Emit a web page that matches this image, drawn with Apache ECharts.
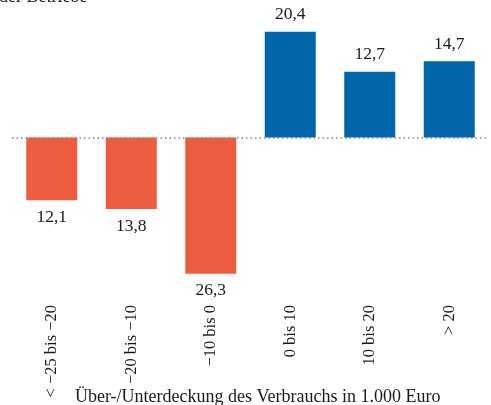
<!DOCTYPE html>
<html>
<head>
<meta charset="utf-8">
<script src="https://cdn.jsdelivr.net/npm/echarts@6/dist/echarts.min.js"></script>
<style>
  html, body { margin: 0; padding: 0; background: #fff; }
  #chart { width: 491px; height: 405px; }
</style>
</head>
<body>
<div id="chart"></div>
<script>
// Surplus / shortfall classes (in 1,000 euro)
const categories = ['< −25 bis −20', '−20 bis −10', '−10 bis 0', '0 bis 10', '10 bis 20', '> 20'];
// Share of farms per class; shortfalls drawn below the zero line
const values = [-12.1, -13.8, -26.3, 20.4, 12.7, 14.7];
const axisTitle = 'Über-/Unterdeckung des Verbrauchs in 1.000 Euro';
const headText = 'der Betriebe';

const RED = '#EC5D40';
const BLUE = '#0066A9';
const FONT = '"Liberation Serif", "DejaVu Serif", serif';

const chart = echarts.init(document.getElementById('chart'), null, { renderer: 'canvas' });

chart.setOption({
  animation: false,
  backgroundColor: '#fff',
  textStyle: { fontFamily: FONT },
  title: [
    {
      text: headText,
      left: -1,
      top: -12,
      padding: 0,
      textStyle: { fontFamily: FONT, fontSize: 18, fontWeight: 'normal', color: '#1a1a1a' }
    },
    {
      text: axisTitle,
      left: 75,
      top: 388,
      padding: 0,
      textStyle: { fontFamily: FONT, fontSize: 18, fontWeight: 'normal', color: '#1a1a1a' }
    }
  ],
  grid: { left: 12, right: 2, top: 8, bottom: 112 },
  xAxis: {
    type: 'category',
    data: categories,
    axisLine: { show: false },
    axisTick: { show: false },
    axisLabel: {
      rotate: 90,
      margin: 12,
      fontFamily: FONT,
      fontSize: 16.5,
      color: '#1a1a1a',
      interval: 0
    }
  },
  yAxis: {
    type: 'value',
    min: -30,
    max: 25,
    show: false
  },
  series: [{
    type: 'bar',
    data: values.map(v => ({
      value: v,
      itemStyle: { color: v < 0 ? RED : BLUE },
      label: { position: v < 0 ? 'bottom' : 'top' }
    })),
    barWidth: 51,
    label: {
      show: true,
      distance: 8,
      fontFamily: FONT,
      fontSize: 17.5,
      color: '#1a1a1a',
      formatter: p => Math.abs(p.value).toFixed(1).replace('.', ',')
    },
    markLine: {
      silent: true,
      symbol: 'none',
      z: 10,
      label: { show: false },
      lineStyle: { color: '#888', width: 1.5, type: [1.5, 3] },
      data: [{ yAxis: 0 }]
    }
  }]
});
</script>
</body>
</html>
